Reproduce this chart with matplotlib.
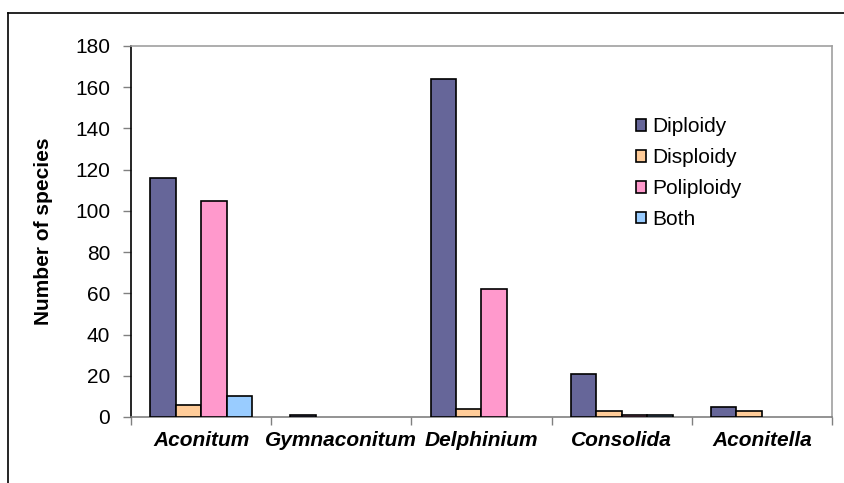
import numpy as np
import matplotlib
matplotlib.use('Agg')
import matplotlib.pyplot as plt
from matplotlib.lines import Line2D

plt.rcParams['font.family'] = ['Liberation Sans', 'DejaVu Sans']

# data
genera = ['Aconitum', 'Gymnaconitum', 'Delphinium', 'Consolida', 'Aconitella']
series = ['Diploidy', 'Disploidy', 'Poliploidy', 'Both']
diploidy = [116, 1, 164, 21, 5]
disploidy = [6, 0, 4, 3, 3]
poliploidy = [105, 0, 62, 1, 0]
both = [10, 0, 0, 1, 0]
yticks = [0, 20, 40, 60, 80, 100, 120, 140, 160, 180]

colors = ['#666699', '#FFCC99', '#FF99CC', '#99CCFF']

fig = plt.figure(figsize=(8.45, 4.83), dpi=100)
ax = fig.add_axes([131 / 845, 1 - 417 / 483, (832 - 131) / 845, (417 - 46) / 483])

x = np.arange(len(genera))
w = 1 / 5.5  # excel gap width 150%
for i, (name, vals) in enumerate(zip(series, [diploidy, disploidy, poliploidy, both])):
    v = np.array(vals, dtype=float)
    v = np.where(v > 0, v, np.nan)  # excel does not draw empty bars
    ax.bar(x + (i - 1.5) * w, v, width=w, color=colors[i], edgecolor='black',
           linewidth=1.2, label=name, zorder=3)

ax.set_xlim(-0.5, len(genera) - 0.5)
ax.set_ylim(0, 180)
ax.set_yticks(yticks)
ax.tick_params(axis='y', direction='out', length=6, width=1, color='#808080',
               labelsize=15, pad=9)

ax.set_xticks(x)
ax.set_xticklabels(genera, fontsize=15, fontweight='bold', fontstyle='italic')
ax.set_xticks(np.arange(len(genera) + 1) - 0.5, minor=True)
ax.tick_params(axis='x', which='major', length=0, pad=10)
ax.tick_params(axis='x', which='minor', direction='out', length=6, width=1, color='#808080')

ax.set_ylabel('Number of species', fontsize=15, fontweight='bold', labelpad=16)

ax.spines['left'].set_color('black')
ax.spines['bottom'].set_color('#808080')
ax.spines['top'].set_color('#a0a0a0')
ax.spines['right'].set_color('#a0a0a0')
for s in ax.spines.values():
    s.set_linewidth(1.2)

ax.legend(loc='upper left', bbox_to_anchor=(0.72, 0.808), frameon=False, fontsize=15,
          handlelength=0.5, handleheight=0.5, handletextpad=0.3, labelspacing=0.57,
          borderaxespad=0, borderpad=0)

# outer chart border (partially visible)
fig.add_artist(Line2D([8 / 845, 1], [1 - 13 / 483, 1 - 13 / 483], color='black', lw=1.2))
fig.add_artist(Line2D([8 / 845, 8 / 845], [0, 1 - 13 / 483], color='black', lw=1.2))

fig.savefig('out.png', dpi=100)
